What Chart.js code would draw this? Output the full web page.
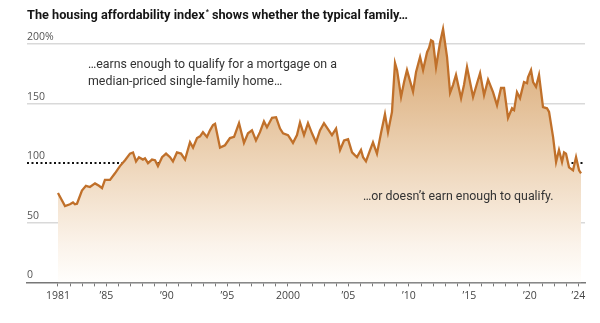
<!DOCTYPE html>
<html><head><meta charset="utf-8">
<script src="https://cdn.jsdelivr.net/npm/chart.js@4/dist/chart.umd.min.js"></script>
<style>html,body{margin:0;padding:0;background:#fff;} #wrap{width:600px;height:323px;position:relative;}</style>
</head><body><div id="wrap"><canvas id="c"></canvas></div>
<script>
// Housing affordability index
const years = [1981.00,1981.58,1981.99,1982.24,1982.40,1982.57,1982.98,1983.31,1983.64,1984.06,1984.39,1984.64,1984.88,1985.30,1985.71,1986.12,1986.54,1986.95,1987.20,1987.45,1987.69,1988.02,1988.19,1988.44,1988.77,1989.02,1989.26,1989.60,1989.93,1990.26,1990.50,1990.83,1991.17,1991.50,1991.91,1992.16,1992.49,1992.74,1992.98,1993.31,1993.56,1993.81,1993.98,1994.39,1994.80,1995.21,1995.55,1995.96,1996.37,1996.70,1997.03,1997.36,1997.69,1998.02,1998.27,1998.69,1999.02,1999.35,1999.60,2000.01,2000.42,2000.75,2001.00,2001.33,2001.66,2001.99,2002.32,2002.65,2002.98,2003.31,2003.64,2003.98,2004.31,2004.64,2004.97,2005.30,2005.55,2005.71,2006.04,2006.21,2006.45,2006.79,2007.03,2007.36,2007.69,2008.02,2008.27,2008.60,2008.85,2009.02,2009.35,2009.60,2009.84,2010.34,2010.59,2010.92,2011.17,2011.50,2011.66,2011.83,2011.99,2012.24,2012.57,2012.82,2013.15,2013.40,2013.64,2013.89,2014.31,2014.55,2014.80,2015.30,2015.63,2015.88,2016.21,2016.54,2016.95,2017.28,2017.61,2017.86,2018.19,2018.52,2018.69,2018.93,2019.18,2019.51,2019.76,2019.84,2020.09,2020.26,2020.50,2020.75,2021.08,2021.41,2021.58,2021.91,2022.16,2022.40,2022.65,2022.82,2022.98,2023.23,2023.56,2023.81,2024.06,2024.22];
const values = [75,64,65.5,67,65.5,66,77,81,80,83,81,79,86,86,91.5,97.5,102.5,108,109,101.5,105,103,104,100,103,102.5,97.5,105,108,105,101.5,109,108,103,117.5,113,121,122.5,126,122,127.5,132,133,113,115,121,122,133.5,117,125,127.5,119,126,135,130,138,138.5,129,125,123.5,117,123.5,134,123.5,133.5,125,117.5,127.5,133.5,128.5,123.5,129,111,119,120,109,106.5,105,111,105,101.5,111,117.5,108,125,141,126,143,184,178,155.5,168,178,160,176.5,189,178,193,196.5,203,202,180.5,201,212.5,189,159,165.5,174,154.5,165.5,180.5,155.5,167,175.5,157,170,159.5,148.5,163,163,138,146,144.5,159.5,154.5,168,167,172,178,168,164,174,147,146,143,122,101,111,101,109,108,96.5,94,105,94,91.5];

const yTickValues = [0, 50, 100, 150, 200];
const yTickLabels = ['0', '50', '100', '150', '200%'];
const xLabelYears = [1981, 1985, 1990, 1995, 2000, 2005, 2010, 2015, 2020, 2024];
const xLabelTexts = ['1981', '\u201985', '\u201990', '\u201995', '2000', '\u201905', '\u201910', '\u201915', '\u201920', '\u201924'];
const firstTickYear = 1981, lastTickYear = 2024;

const titleBefore = 'The housing affordability index';
const titleMark = '*';
const titleAfter = ' shows whether the typical family\u2026';
const noteAbove = ['\u2026earns enough to qualify for a mortgage on a', 'median-priced single-family home\u2026'];
const noteBelow = ['\u2026or doesn\u2019t earn enough to qualify.'];

const FONT = '"Open Sans", "Noto Sans", sans-serif';
const NOTE_FONT = 'Roboto, "Open Sans", sans-serif';

const points = years.map((y, i) => ({x: y, y: values[i]}));

function fitSize(ctx, weight, family, text, target, base) {
  ctx.font = weight + ' ' + base + 'px ' + family;
  const w = ctx.measureText(text).width;
  return base * target / w;
}

const textPlugin = {
  id: 'texts',
  afterDatasetsDraw(chart) {
    const ctx = chart.ctx;
    const xs = chart.scales.x, ys = chart.scales.y;
    ctx.save();
    ctx.textBaseline = 'middle';
    ctx.textAlign = 'left';
    // title
    ctx.fillStyle = '#151515';
    const ts = fitSize(ctx, 'bold', NOTE_FONT, titleBefore + titleAfter, 377, 13);
    ctx.font = 'bold ' + ts + 'px ' + NOTE_FONT;
    let tx = 27, ty = 16;
    ctx.fillText(titleBefore, tx, ty);
    tx += ctx.measureText(titleBefore).width + 1;
    ctx.font = 'bold 7px ' + NOTE_FONT;
    ctx.fillText(titleMark, tx, ty - 4);
    tx += ctx.measureText(titleMark).width;
    ctx.font = 'bold ' + ts + 'px ' + NOTE_FONT;
    ctx.fillText(titleAfter, tx, ty);
    // annotations
    ctx.fillStyle = '#333';
    const ns = fitSize(ctx, 'normal', NOTE_FONT, noteAbove[0], 249, 12.5);
    ctx.font = ns + 'px ' + NOTE_FONT;
    let ax = xs.getPixelForValue(1983.48), ay = ys.getPixelForValue(182.3);
    noteAbove.forEach((l, i) => ctx.fillText(l, ax, ay + i * 17));
    ax = xs.getPixelForValue(2006.2); ay = ys.getPixelForValue(71.4);
    noteBelow.forEach((l, i) => ctx.fillText(l, ax, ay + i * 17));
    ctx.restore();
  }
};

new Chart(document.getElementById('c'), {
  type: 'line',
  data: {
    datasets: [{
      data: points,
      borderColor: '#c0702a',
      borderWidth: 2.3,
      pointRadius: 0,
      tension: 0,
      fill: 'origin',
      clip: false,
      backgroundColor(context) {
        const {chart} = context;
        const a = chart.chartArea;
        if (!a) return 'rgba(0,0,0,0)';
        const g = chart.ctx.createLinearGradient(0, a.top, 0, a.bottom);
        g.addColorStop(0, 'rgb(214,162,106)');
        g.addColorStop(0.5, 'rgb(236,210,180)');
        g.addColorStop(0.85, 'rgb(251,243,234)');
        g.addColorStop(1, 'rgb(255,254,252)');
        return g;
      }
    }]
  },
  options: {
    responsive: true,
    maintainAspectRatio: false,
    animation: false,
    devicePixelRatio: 1,
    layout: {padding: {left: 27, right: 15, top: 26, bottom: 18}},
    plugins: {legend: {display: false}, tooltip: {enabled: false}, title: {display: false}},
    scales: {
      x: {
        type: 'linear',
        min: 1978.44,
        max: 2024.55,
        afterBuildTicks(scale) {
          const t = [];
          for (let y = firstTickYear; y <= lastTickYear; y++) t.push({value: y});
          scale.ticks = t;
        },
        ticks: {
          autoSkip: false, maxRotation: 0, padding: 3,
          color: '#444', font: {family: FONT, size: 10.5},
          callback(v) { const i = xLabelYears.indexOf(v); return i >= 0 ? xLabelTexts[i] : ''; }
        },
        grid: {drawOnChartArea: false, drawTicks: true, tickLength: 4, color: '#777', lineWidth: 1},
        border: {display: true, color: '#777', width: 1.5}
      },
      y: {
        min: 0,
        max: 215,
        afterBuildTicks(scale) { scale.ticks = yTickValues.map(v => ({value: v})); },
        ticks: {
          mirror: true, padding: 0, labelOffset: -7,
          color: '#555', font: {family: FONT, size: 10.5},
          callback(v) { const i = yTickValues.indexOf(v); return i >= 0 ? yTickLabels[i] : ''; }
        },
        grid: {
          drawTicks: false,
          color(c) { const v = c.tick && c.tick.value; if (v === 0) return 'rgba(0,0,0,0)'; return v === 100 ? '#111' : '#d9d9d9'; },
          lineWidth(c) { return c.tick && c.tick.value === 100 ? 2 : 1.5; }
        },
        border: {display: false, dash(c) { return c.tick && c.tick.value === 100 ? [2, 2.5] : []; }}
      }
    }
  },
  plugins: [textPlugin]
});
</script>
</body></html>
